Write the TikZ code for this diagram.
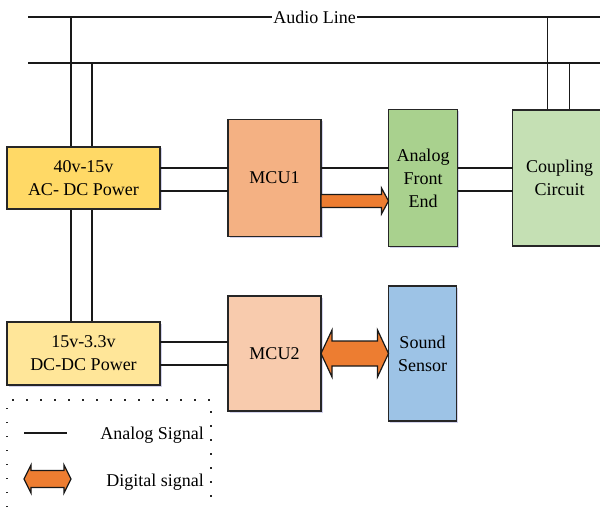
\documentclass[tikz,border=0pt]{standalone}
\usepackage{fontspec}
\setmainfont{Liberation Serif}
\usepackage{tikz}
\usetikzlibrary{positioning}
\usetikzlibrary{calc}
\usetikzlibrary{shadows}
\usetikzlibrary{backgrounds}

\definecolor{pwra}{HTML}{FFD966}
\definecolor{pwrb}{HTML}{FFE699}
\definecolor{mcua}{HTML}{F4B183}
\definecolor{mcub}{HTML}{F8CBAD}
\definecolor{afecol}{HTML}{A9D18E}
\definecolor{cplcol}{HTML}{C5E0B4}
\definecolor{sndcol}{HTML}{9DC3E6}
\definecolor{sigcol}{HTML}{ED7D31}

\begin{document}
\begin{tikzpicture}[x=1pt,y=1pt,
		blk/.style={draw=black!85,line width=1.2pt,rectangle,align=center,inner sep=2pt,outer sep=0pt,
			font=\rmfamily\fontsize{18}{23}\selectfont,
			drop shadow={shadow xshift=1.5pt,shadow yshift=-1.5pt,fill=blue!40!gray,opacity=0.25}},
		wire/.style={black!90,line width=1.2pt},
		sig/.style={draw=black!90,line width=1.2pt,fill=sigcol,line join=miter},
		txt/.style={font=\rmfamily\fontsize{18}{23}\selectfont,inner sep=1pt}]
		\clip (0,0) rectangle (600,515);

		\node[blk,fill = pwra,minimum width = 153,minimum height = 62] at (83.5,337) (pw1)
		{40v-15v\\AC- DC Power};
		\node[blk,right = 68pt of pw1,fill = mcua,minimum width = 93,minimum height = 117] (mcu1)
		{MCU1};
		\node[blk,right = 67.5pt of mcu1,fill = afecol,minimum width = 69,minimum height = 137] (afe)
		{Analog\\Front\\End};
		\node[blk,right = 55pt of afe,fill = cplcol,minimum width = 94,minimum height = 136] (cpl)
		{Coupling\\Circuit};
		\node[blk,below = 113pt of pw1,fill = pwrb,minimum width = 153,minimum height = 63] (pw2)
		{15v-3.3v\\DC-DC Power};
		\node[blk,right = 68pt of pw2,fill = mcub,minimum width = 93,minimum height = 115] (mcu2)
		{MCU2};
		\node[blk,right = 67.5pt of mcu2,fill = sndcol,minimum width = 68,minimum height = 135] (snd)
		{Sound\\Sensor};

		% audio line
		\coordinate (top1) at (28,498);
		\coordinate (top1e) at (605,498);
		\coordinate (top2) at (28,452);
		\coordinate (top2e) at (605,452);
		\node[txt] at (314.5,498) (audio) {Audio Line};
		\draw[wire] (top1) -- (audio) -- (top1e);
		\draw[wire] (top2) -- (top2e);

		\begin{scope}[on background layer]
			\draw[wire] ([xshift=-12.5pt]pw1.north) -- ([xshift=-12.5pt]pw1.north |- top1);
			\draw[wire] ([xshift=8.5pt]pw1.north) -- ([xshift=8.5pt]pw1.north |- top2);
			\draw[wire] ([xshift=-12.5pt]pw1.south) -- ([xshift=-12.5pt]pw2.north);
			\draw[wire] ([xshift=8.5pt]pw1.south) -- ([xshift=8.5pt]pw2.north);
			\draw[wire] ([xshift=-12pt]cpl.north) -- ([xshift=-12pt]cpl.north |- top1);
			\draw[wire] ([xshift=10pt]cpl.north) -- ([xshift=10pt]cpl.north |- top2);
		\end{scope}

		% analog links
		\draw[wire] ([yshift=10pt]pw1.east) -- ([yshift=10pt]pw1.east -| mcu1.west);
		\draw[wire] ([yshift=-13pt]pw1.east) -- ([yshift=-13pt]pw1.east -| mcu1.west);
		\draw[wire] ([yshift=10pt]mcu1.east) -- ([yshift=10pt]mcu1.east -| afe.west);
		\draw[wire] ([yshift=10pt]afe.east) -- ([yshift=10pt]afe.east -| cpl.west);
		\draw[wire] ([yshift=-13pt]afe.east) -- ([yshift=-13pt]afe.east -| cpl.west);
		\draw[wire] ([yshift=11.5pt]pw2.east) -- ([yshift=11.5pt]pw2.east -| mcu2.west);
		\draw[wire] ([yshift=-11.5pt]pw2.east) -- ([yshift=-11.5pt]pw2.east -| mcu2.west);

		% digital links
		\coordinate (s1) at ([yshift=-23pt]mcu1.east);
		\coordinate (s2) at (s1 -| afe.west);
		\draw[sig] ($(s1)+(0,6.5)$) -- ($(s2)+(-7,6.5)$) -- ($(s2)+(-7,13)$) -- (s2)
			-- ($(s2)+(-7,-13)$) -- ($(s2)+(-7,-6.5)$) -- ($(s1)+(0,-6.5)$) -- cycle;
		\coordinate (d1) at (mcu2.east);
		\coordinate (d2) at (d1 -| snd.west);
		\draw[sig] (d1) -- ($(d1)+(11,23.5)$) -- ($(d1)+(11,12.5)$) -- ($(d2)+(-11,12.5)$)
			-- ($(d2)+(-11,23.5)$) -- (d2) -- ($(d2)+(-11,-23.5)$) -- ($(d2)+(-11,-12.5)$)
			-- ($(d1)+(11,-12.5)$) -- ($(d1)+(11,-23.5)$) -- cycle;

		% legend
		\draw[black!85,line width=1.5pt,dash pattern=on 1.5pt off 12.5pt] (7,8) -- (7,115) -- (211,115) -- (211,8);
		\coordinate (la) at (24,82);
		\coordinate (lb) at (67,82);
		\draw[wire] (la) -- (lb);
		\node[txt,anchor=east] at (205,80) (lana) {Analog Signal};
		\coordinate (e1) at (24,36);
		\coordinate (e2) at (71,36);
		\draw[sig] (e1) -- ($(e1)+(7,14)$) -- ($(e1)+(7,8.5)$) -- ($(e2)+(-7,8.5)$)
			-- ($(e2)+(-7,14)$) -- (e2) -- ($(e2)+(-7,-14)$) -- ($(e2)+(-7,-8.5)$)
			-- ($(e1)+(7,-8.5)$) -- ($(e1)+(7,-14)$) -- cycle;
		\node[txt,anchor=east] at (205,33) (ldig) {Digital signal};
	\end{tikzpicture}
\end{document}
